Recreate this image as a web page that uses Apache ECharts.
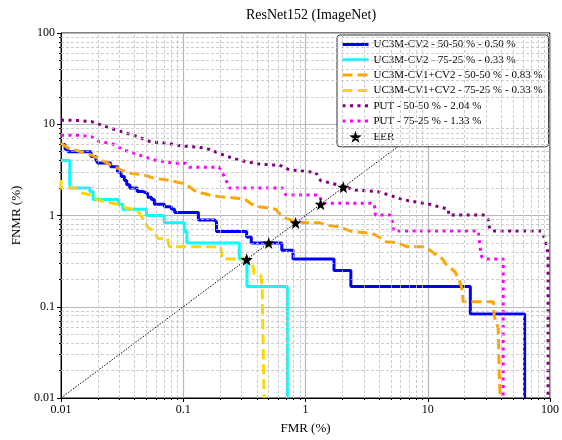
<!DOCTYPE html>
<html>
<head>
<meta charset="utf-8">
<script src="https://cdn.jsdelivr.net/npm/echarts@6/dist/echarts.min.js"></script>
<style>
  html, body { margin: 0; padding: 0; background: #fff; }
  #chart { width: 562px; height: 440px; }
</style>
</head>
<body>
<div id="chart"></div>
<script>
// DET curves, points are [FMR %, FNMR %]
// solid curves are drawn as steps: each point = where the curve drops, and the level after the drop
const uc3mCv2_5050 = [
  [0.01, 6.0], [0.0108, 5.33], [0.0114, 5.0], [0.0176, 4.42], [0.0193, 4.08], [0.020, 3.75],
  [0.0255, 3.42], [0.029, 3.0], [0.031, 2.67], [0.033, 2.42], [0.0345, 2.17], [0.0365, 2.0],
  [0.042, 1.83], [0.047, 1.75], [0.051, 1.58], [0.055, 1.5], [0.058, 1.33], [0.070, 1.25],
  [0.080, 1.17], [0.085, 1.08], [0.133, 0.89], [0.18, 0.85], [0.187, 0.667], [0.33, 0.583],
  [0.36, 0.5], [0.64, 0.417], [0.79, 0.333], [1.71, 0.25], [2.35, 0.167], [22.3, 0.0833],
  [62, 0.01]
];
const uc3mCv2_7525 = [
  [0.01, 4.0], [0.0118, 2.0], [0.0172, 1.83], [0.0183, 1.5], [0.0295, 1.33], [0.032, 1.17],
  [0.05, 1.0], [0.070, 0.833], [0.102, 0.667], [0.107, 0.5], [0.287, 0.333], [0.332, 0.167],
  [0.71, 0.01]
];
const uc3mCv1Cv2_5050 = [
  [0.01, 6.2], [0.0114, 5.5], [0.0138, 5.1], [0.0177, 4.6], [0.0213, 4.06], [0.0257, 3.57],
  [0.031, 3.15], [0.0374, 2.9], [0.0481, 2.78], [0.058, 2.56], [0.079, 2.41], [0.099, 2.25],
  [0.112, 2.07], [0.128, 1.82], [0.164, 1.68], [0.197, 1.61], [0.287, 1.54], [0.326, 1.48],
  [0.358, 1.34], [0.418, 1.25], [0.571, 1.17], [0.608, 1.06], [0.69, 0.93], [0.857, 0.855],
  [1.0, 0.834], [1.29, 0.834], [1.46, 0.787], [1.87, 0.754], [2.41, 0.665], [3.5, 0.638],
  [3.97, 0.586], [4.5, 0.517], [5.78, 0.50], [6.75, 0.455], [9.53, 0.455], [10.8, 0.40],
  [13.0, 0.34], [14.3, 0.287], [16.7, 0.242], [17.8, 0.205], [18.9, 0.166], [19.5, 0.1135],
  [34.4, 0.1135], [35.0, 0.078], [37.7, 0.058], [38.5, 0.0171], [39.2, 0.01]
];
const uc3mCv1Cv2_7525 = [
  [0.01, 2.45], [0.01, 2.0], [0.0133, 2.0], [0.0142, 1.82], [0.0151, 1.75], [0.0177, 1.68],
  [0.020, 1.48], [0.0257, 1.37], [0.030, 1.31], [0.035, 1.2], [0.041, 1.15], [0.0438, 1.06],
  [0.0466, 0.93], [0.0511, 0.75], [0.058, 0.667], [0.0617, 0.56], [0.0744, 0.56], [0.0769, 0.455],
  [0.202, 0.455], [0.209, 0.333], [0.336, 0.333], [0.369, 0.3], [0.38, 0.23], [0.431, 0.22],
  [0.442, 0.166], [0.459, 0.01]
];
const put_5050 = [
  [0.01, 11.1], [0.0138, 11.0], [0.0177, 10.7], [0.0213, 9.8], [0.0257, 9.0], [0.033, 8.1],
  [0.0424, 7.3], [0.0544, 6.4], [0.0744, 6.2], [0.0955, 5.8], [0.1356, 5.6], [0.164, 5.3],
  [0.197, 4.8], [0.253, 4.24], [0.326, 3.89], [0.418, 3.67], [0.537, 3.58], [0.608, 3.58],
  [0.734, 3.17], [1.0, 3.04], [1.21, 2.98], [1.33, 2.41], [1.65, 2.25], [2.06, 2.07],
  [2.56, 1.9], [3.97, 1.82], [4.79, 1.68], [5.78, 1.54], [6.97, 1.45], [10.1, 1.34],
  [12.2, 1.25], [14.8, 1.17], [14.8, 1.01], [29.4, 1.01], [31.3, 0.89], [31.3, 0.787],
  [33.3, 0.676], [84.9, 0.676], [90.6, 0.562], [93.3, 0.475], [96.4, 0.385], [96.4, 0.01]
];
const put_7525 = [
  [0.01, 7.6], [0.0138, 7.6], [0.0177, 7.3], [0.0207, 6.4], [0.0257, 6.2], [0.033, 5.2],
  [0.0398, 4.8], [0.0481, 4.4], [0.058, 4.06], [0.07, 3.89], [0.0844, 3.74], [0.105, 3.74],
  [0.112, 3.37], [0.197, 3.37], [0.21, 2.9], [0.224, 2.45], [0.238, 2.0], [0.647, 2.0],
  [0.69, 1.68], [1.29, 1.68], [1.37, 1.36], [3.61, 1.36], [3.73, 1.15], [3.73, 1.01],
  [4.94, 1.01], [5.1, 0.893], [5.26, 0.676], [25.9, 0.676], [26.7, 0.455], [27.6, 0.353],
  [29.4, 0.333], [41.4, 0.333], [41.4, 0.01]
];
const eerValues = [0.50, 0.33, 0.83, 0.33, 2.04, 1.33];
const diagonal = [[0.01, 0.01], [100, 100]];

const legendNames = [
  "UC3M-CV2 - 50-50 % - 0.50 %",
  "UC3M-CV2 - 75-25 % - 0.33 %",
  "UC3M-CV1+CV2 - 50-50 % - 0.83 %",
  "UC3M-CV1+CV2 - 75-25 % - 0.33 %",
  "PUT - 50-50 % - 2.04 %",
  "PUT - 75-25 % - 1.33 %",
  "EER"
];

// minor grid positions 2..9 in each decade (log axis minor ticks are not spaced right, so do them by hand)
const minorValues = [];
[0.01, 0.1, 1, 10].forEach(d => {
  for (let m = 2; m <= 9; m++) minorValues.push(+(m * d).toPrecision(2));
});

const serif = "Liberation Serif";
const chart = echarts.init(document.getElementById("chart"));

const logAxis = (name, gap) => ({
  type: "log",
  logBase: 10,
  min: 0.01,
  max: 100,
  name: name,
  nameLocation: "middle",
  nameGap: gap,
  nameTextStyle: { fontFamily: serif, fontSize: 13, color: "#000" },
  axisLine: { show: true, onZero: false, lineStyle: { color: "#000", width: 1 } },
  axisTick: { show: true, length: 4, lineStyle: { color: "#000" } },
  axisLabel: { fontFamily: serif, fontSize: 12, color: "#000", margin: 6 },
  splitLine: { show: true, lineStyle: { color: "#b8b8b8", width: 1.2 } }
});

// second axis only for the small minor ticks
const minorTickAxis = (position) => ({
  type: "log",
  logBase: 10,
  min: 0.01,
  max: 100,
  position: position,
  axisLine: { show: false },
  axisLabel: { show: false },
  splitLine: { show: false },
  axisTick: { show: true, length: 2, customValues: minorValues, lineStyle: { color: "#000" } }
});

const curve = (name, data, color, type, step) => ({
  name: name,
  type: "line",
  data: data,
  step: step ? "end" : false,
  symbol: "none",
  lineStyle: { color: color, width: 3, type: type },
  itemStyle: { color: color },
  z: 3
});

const option = {
  animation: false,
  title: {
    text: "ResNet152 (ImageNet)",
    left: 306,
    top: 3,
    textAlign: "center",
    textStyle: { fontFamily: serif, fontSize: 14, fontWeight: "normal", color: "#000" }
  },
  grid: {
    left: 61, right: 10, top: 33, bottom: 42,
    show: true, borderColor: "#000", borderWidth: 1
  },
  legend: {
    data: legendNames.map((n, i) => (i < 6 ? { name: n, itemStyle: { opacity: 0 } } : { name: n })),
    orient: "vertical",
    left: 337,
    top: 35,
    padding: [4, 6, 4, 4],
    itemGap: 4.3,
    itemWidth: 26,
    itemHeight: 12,
    lineStyle: { width: 3 },
    backgroundColor: "#fff",
    borderColor: "#333",
    borderWidth: 1,
    borderRadius: 3,
    textStyle: { fontFamily: serif, fontSize: 11, color: "#000" }
  },
  xAxis: [logAxis("FMR (%)", 24), minorTickAxis("bottom")],
  yAxis: [logAxis("FNMR (%)", 38), minorTickAxis("left")],
  series: [
    {
      type: "line",
      data: [],
      silent: true,
      z: 1,
      markLine: {
        silent: true,
        symbol: ["none", "none"],
        label: { show: false },
        lineStyle: { color: "#c0c0c0", width: 0.8, type: [3, 2] },
        data: minorValues.map(v => ({ xAxis: v })).concat(minorValues.map(v => ({ yAxis: v })))
      }
    },
    {
      type: "line",
      data: diagonal,
      symbol: "none",
      silent: true,
      lineStyle: { color: "#000", width: 1, type: [1.5, 1.5] },
      z: 2
    },
    curve(legendNames[0], uc3mCv2_5050, "#0000ff", "solid", true),
    curve(legendNames[1], uc3mCv2_7525, "#00ffff", "solid", true),
    curve(legendNames[2], uc3mCv1Cv2_5050, "#ffa500", [10, 5], false),
    curve(legendNames[3], uc3mCv1Cv2_7525, "#ffd700", [10, 5], false),
    curve(legendNames[4], put_5050, "#800080", [3, 4.5], false),
    curve(legendNames[5], put_7525, "#ff00ff", [3, 4.5], false),
    {
      name: legendNames[6],
      type: "scatter",
      data: eerValues.map(v => [v, v]),
      symbol: "path://M0,-10 L2.35,-3.24 L9.51,-3.09 L3.8,1.24 L5.88,8.09 L0,4 L-5.88,8.09 L-3.8,1.24 L-9.51,-3.09 L-2.35,-3.24 Z",
      symbolSize: 12,
      itemStyle: { color: "#000", opacity: 1 },
      z: 5
    }
  ]
};

chart.setOption(option);
</script>
</body>
</html>
